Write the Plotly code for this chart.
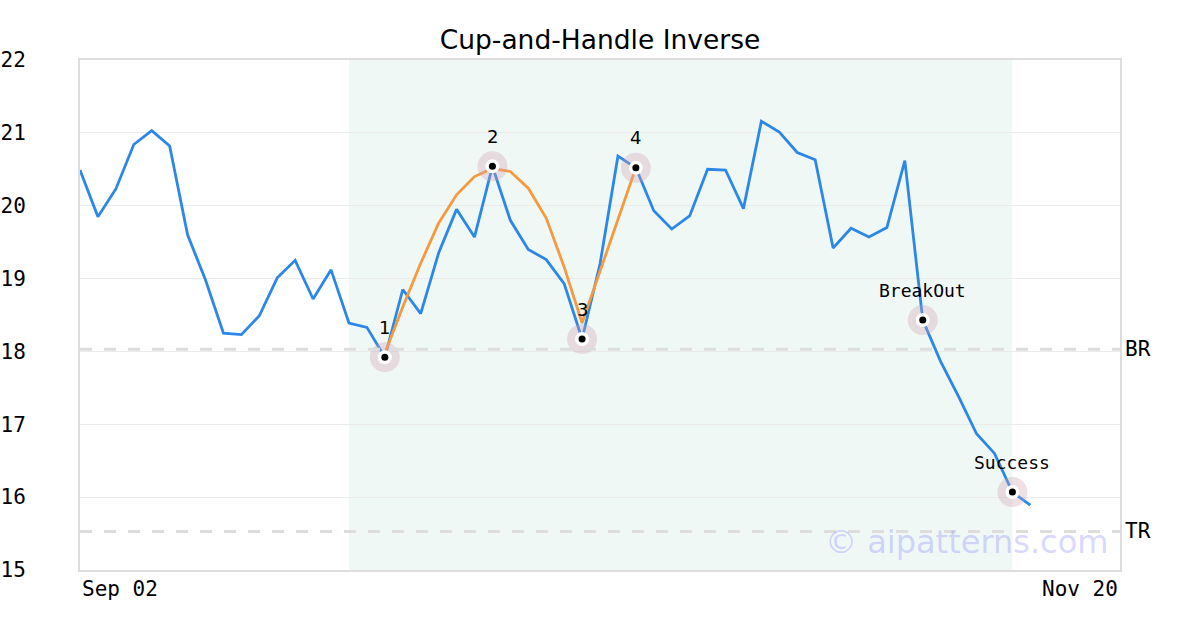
import plotly.graph_objects as go

# ---- data ----
x_labels = ["Sep 02", "Nov 20"]
n_steps = 58
prices = [20.49, 19.85, 20.23, 20.84, 21.03, 20.82, 19.60, 18.98, 18.25, 18.23,
          18.49, 19.01, 19.25, 18.72, 19.12, 18.39, 18.33, 17.92, 18.85, 18.52,
          19.35, 19.95, 19.57, 20.54, 19.80, 19.40, 19.26, 18.93, 18.17, 19.20,
          20.68, 20.52, 19.93, 19.68, 19.86, 20.50, 20.49, 19.96, 21.16, 21.01,
          20.73, 20.63, 19.42, 19.69, 19.57, 19.70, 20.62, 18.43, 17.86, 17.38,
          16.87, 16.60, 16.07, 15.89]
cup_idx = [17, 18, 19, 20, 21, 22, 23, 24, 25, 26, 27, 28, 31]
cup_vals = [17.97, 18.61, 19.21, 19.76, 20.15, 20.40, 20.51, 20.47, 20.24, 19.83,
            19.16, 18.39, 20.52]
point_idx = [17, 23, 28, 31, 47, 52]
point_labels = ["1", "2", "3", "4", "BreakOut", "Success"]
levels = [18.03, 15.53]
level_names = ["BR", "TR"]
zone = [15, 52]

xs = list(range(len(prices)))
pt_vals = [prices[i] for i in point_idx]

fig = go.Figure()
fig.add_trace(go.Scatter(x=xs, y=prices, mode="lines",
                         line=dict(color="#2b87e8", width=2.8), hoverinfo="skip"))
fig.add_trace(go.Scatter(x=cup_idx, y=cup_vals, mode="lines",
                         line=dict(color="#f7993f", width=2.8), hoverinfo="skip"))
fig.add_trace(go.Scatter(x=point_idx, y=pt_vals, mode="markers", hoverinfo="skip",
                         marker=dict(size=30, color="rgba(205,160,178,0.33)", line=dict(width=0))))
fig.add_trace(go.Scatter(x=point_idx, y=pt_vals, mode="markers", hoverinfo="skip",
                         marker=dict(size=14, color="white", line=dict(width=0))))
fig.add_trace(go.Scatter(x=point_idx, y=pt_vals, mode="markers", hoverinfo="skip",
                         marker=dict(size=7, color="black", line=dict(width=0))))

# zone
fig.add_shape(type="rect", xref="x", yref="paper", x0=zone[0], x1=zone[1], y0=0, y1=1,
              fillcolor="#f0f8f5", line=dict(width=0), layer="below")
for lv, nm in zip(levels, level_names):
    fig.add_shape(type="line", xref="paper", yref="y", x0=0, x1=1, y0=lv, y1=lv,
                  line=dict(color="#dddddd", width=3, dash="12px,12px"), layer="above")
    fig.add_annotation(xref="paper", yref="y", x=1, y=lv, text=nm, showarrow=False,
                       xanchor="left", xshift=3, font=dict(family="DejaVu Sans Mono", size=21, color="black"))

for i, lab in zip(point_idx, point_labels):
    mono = len(lab) > 1
    fig.add_annotation(x=i, y=prices[i], text=lab, showarrow=False, yshift=30,
                       font=dict(family="DejaVu Sans Mono" if mono else "DejaVu Sans",
                                 size=18, color="black"))

fig.add_annotation(xref="paper", yref="paper", x=0, y=0, yshift=-5, text=x_labels[0],
                   showarrow=False, xanchor="left", yanchor="top",
                   font=dict(family="DejaVu Sans Mono", size=21, color="black"))
fig.add_annotation(xref="paper", yref="paper", x=1, y=0, yshift=-5, text=x_labels[1],
                   showarrow=False, xanchor="right", yanchor="top",
                   font=dict(family="DejaVu Sans Mono", size=21, color="black"))

fig.add_annotation(xref="paper", yref="paper", x=0.99, y=0.055, text="© aipatterns.com",
                   showarrow=False, xanchor="right", yanchor="middle",
                   font=dict(family="DejaVu Sans", size=32, color="rgba(120,120,255,0.3)"))

fig.update_layout(
    width=1200, height=630,
    margin=dict(l=80, r=80, t=60, b=60),
    paper_bgcolor="white", plot_bgcolor="white",
    showlegend=False, hovermode=False,
    title=dict(text="Cup-and-Handle Inverse", x=0.5, xanchor="center", y=1 - 40 / 630, yanchor="middle",
               font=dict(family="DejaVu Sans", size=26.5, color="black")),
    xaxis=dict(range=[0, n_steps], showgrid=False, showticklabels=False, zeroline=False,
               showline=True, linecolor="#dddddd", linewidth=2, mirror=True, ticks="",
               automargin=False),
    yaxis=dict(range=[15, 22], dtick=1, showgrid=True, gridcolor="#ebebeb", gridwidth=1,
               zeroline=False, showline=True, linecolor="#dddddd", linewidth=2, mirror=True,
               ticks="", ticklabelstandoff=48, automargin=False,
               tickfont=dict(family="DejaVu Sans Mono", size=21, color="black")),
)

fig.write_html("out.html", config={"displayModeBar": False},
               post_script="document.body.style.margin='0';")
